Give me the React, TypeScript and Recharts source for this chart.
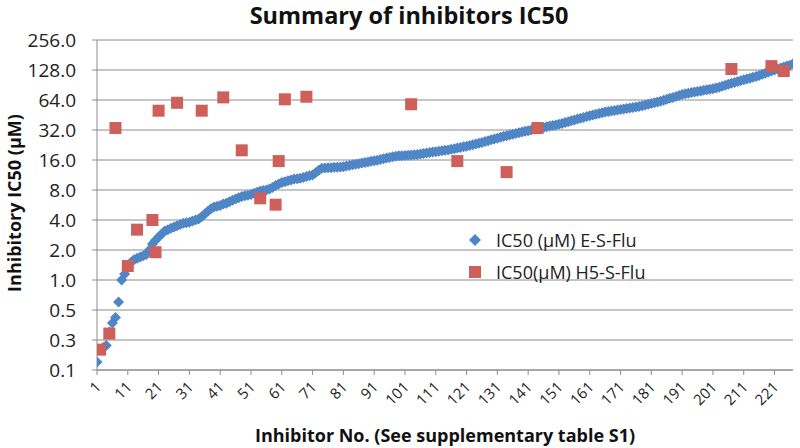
import { ScatterChart, Scatter, XAxis, YAxis, CartesianGrid } from "recharts";

const inhibitorTicks = [1, 11, 21, 31, 41, 51, 61, 71, 81, 91, 101, 111, 121, 131, 141, 151, 161, 171, 181, 191, 201, 211, 221];
const icTicks = [0.125, 0.25, 0.5, 1, 2, 4, 8, 16, 32, 64, 128, 256];

// IC50 (µM) E-S-Flu, sorted, inhibitor 1..227
const esFluIC50 = [
  0.15, 0.2, 0.21, 0.22, 0.3, 0.37, 0.42, 0.6, 1.0, 1.15,
  1.35, 1.5, 1.6, 1.65, 1.7, 1.75, 1.8, 2.0, 2.3, 2.5,
  2.7, 2.9, 3.1, 3.2, 3.3, 3.4, 3.5, 3.6, 3.7, 3.75,
  3.8, 3.9, 4.0, 4.1, 4.3, 4.6, 4.9, 5.2, 5.4, 5.5,
  5.6, 5.8, 5.9, 6.1, 6.3, 6.5, 6.7, 6.9, 7.0, 7.1,
  7.2, 7.4, 7.6, 7.8, 7.9, 8.0, 8.2, 8.5, 8.9, 9.2,
  9.5, 9.7, 9.9, 10.1, 10.3, 10.4, 10.5, 10.7, 10.9, 11.1,
  11.3, 11.9, 12.6, 13.2, 13.3, 13.4, 13.4, 13.5, 13.5, 13.6,
  13.7, 13.9, 14.1, 14.3, 14.5, 14.7, 14.9, 15.1, 15.3, 15.5,
  15.7, 15.9, 16.2, 16.5, 16.8, 17.0, 17.2, 17.4, 17.6, 17.7,
  17.8, 17.9, 18.0, 18.1, 18.2, 18.4, 18.6, 18.8, 19.0, 19.2,
  19.4, 19.6, 19.8, 20.0, 20.2, 20.5, 20.8, 21.1, 21.4, 21.7,
  22.0, 22.4, 22.8, 23.2, 23.6, 24.0, 24.5, 25.0, 25.5, 26.0,
  26.5, 27.0, 27.5, 28.0, 28.5, 29.0, 29.5, 30.0, 30.5, 31.0,
  31.5, 32.0, 32.5, 33.0, 33.5, 34.0, 34.5, 35.0, 35.5, 36.0,
  36.5, 37.2, 38.0, 38.8, 39.6, 40.4, 41.2, 42.0, 42.8, 43.6,
  44.4, 45.2, 46.0, 46.8, 47.6, 48.4, 49.0, 49.6, 50.2, 50.8,
  51.4, 52.0, 52.6, 53.2, 53.8, 54.5, 55.2, 56, 57, 58,
  59, 60, 61, 62, 63.5, 65, 66.5, 68, 69.5, 71,
  72.5, 74, 75, 76, 77, 78, 79, 80, 81, 82,
  83, 84.5, 86, 88, 90, 92, 94, 96, 98, 100,
  102, 104, 106, 108, 110, 113, 116, 119, 122, 125,
  128, 131, 134, 137, 140, 143, 148,
];

// IC50 (µM) H5-S-Flu, only the inhibitors that were measured
const h5Inhibitors = [2, 5, 7, 11, 14, 19, 20, 21, 27, 35, 42, 48, 54, 59, 60, 62, 69, 103, 118, 134, 144, 207, 220, 224];
const h5FluIC50 = [0.2, 0.29, 33.5, 1.38, 3.2, 4.0, 1.9, 50, 60, 50, 68, 20, 6.6, 5.7, 15.6, 65, 69, 58, 15.6, 12.1, 33.5, 131, 140, 125];

const BLUE = "#4F86C6";
const RED = "#CF5F5B";
const GRID = "#8C8C8C";
const FONT = "'Open Sans', sans-serif";

const esData = esFluIC50.map((v, i) => ({ no: i + 1, ic50: v }));
const h5Data = h5Inhibitors.map((n, i) => ({ no: n, ic50: h5FluIC50[i] }));

const Diamond = (p: any) => {
  const { cx, cy } = p;
  if (cx == null || cy == null) return <g />;
  const r = 5.5;
  return <path d={`M${cx},${cy - r}L${cx + r},${cy}L${cx},${cy + r}L${cx - r},${cy}Z`} fill={BLUE} />;
};

const Square = (p: any) => {
  const { cx, cy } = p;
  if (cx == null || cy == null) return <g />;
  return <rect x={cx - 6} y={cy - 6} width={12} height={12} fill={RED} />;
};

const XTick = ({ x, y, payload }: any) => {
  const ax = x + 5;
  const ay = y + 11;
  return (
    <text x={ax} y={ay} transform={`rotate(-45 ${ax} ${ay})`} textAnchor="end" fontSize={15} fontFamily={FONT} fill="#222">
      {payload.value}
    </text>
  );
};

const YTick = ({ y, payload }: any) => (
  <text x={76} y={y} textAnchor="end" dominantBaseline="central" fontSize={19} fontFamily={FONT} fill="#222">
    {Number(payload.value).toFixed(1)}
  </text>
);

export default function App() {
  return (
    <div style={{ position: "absolute", left: 0, top: 0, width: 800, height: 448, background: "#fff", fontFamily: FONT }}>
      <div style={{ position: "absolute", top: -1, left: 0, width: 818, textAlign: "center", fontSize: 23.5, fontWeight: 700, color: "#111" }}>
        Summary of inhibitors IC50
      </div>
      <div
        style={{
          position: "absolute",
          left: 14,
          top: 203,
          transform: "translate(-50%, -50%) rotate(-90deg)",
          whiteSpace: "nowrap",
          fontSize: 18,
          fontWeight: 700,
          color: "#111",
        }}
      >
        Inhibitory IC50 (μM)
      </div>
      <div style={{ position: "absolute", top: 423, left: 252, width: 386, textAlign: "center", whiteSpace: "nowrap", fontSize: 18, fontWeight: 700, color: "#111" }}>
        Inhibitor No. (See supplementary table S1)
      </div>
      <ScatterChart width={800} height={448} margin={{ top: 40, right: 7, left: 0, bottom: 0 }}>
        <CartesianGrid vertical={false} stroke={GRID} />
        <XAxis
          type="number"
          dataKey="no"
          domain={[1, 227]}
          ticks={inhibitorTicks}
          interval={0}
          height={78}
          tick={<XTick />}
          tickSize={5}
          axisLine={{ stroke: GRID }}
          tickLine={{ stroke: GRID }}
          allowDataOverflow
        />
        <YAxis
          type="number"
          dataKey="ic50"
          scale="log"
          domain={[0.125, 256]}
          ticks={icTicks}
          interval={0}
          width={97}
          tick={<YTick />}
          tickSize={5}
          axisLine={{ stroke: GRID }}
          tickLine={{ stroke: GRID }}
          allowDataOverflow
        />
        <Scatter name="IC50 (μM) E-S-Flu" data={esData} shape={Diamond} isAnimationActive={false} />
        <Scatter name="IC50(μM) H5-S-Flu" data={h5Data} shape={Square} isAnimationActive={false} />
      </ScatterChart>
      <div style={{ position: "absolute", left: 468, top: 224, fontSize: 18, color: "#222", lineHeight: "32px" }}>
        <div style={{ display: "flex", alignItems: "center" }}>
          <svg width={22} height={14}>
            <path d="M7,1L13,7L7,13L1,7Z" fill={BLUE} />
          </svg>
          <span style={{ marginLeft: 6 }}>IC50 (μM) E-S-Flu</span>
        </div>
        <div style={{ display: "flex", alignItems: "center" }}>
          <svg width={22} height={14}>
            <rect x={1} y={1} width={12} height={12} fill={RED} />
          </svg>
          <span style={{ marginLeft: 6 }}>IC50(μM) H5-S-Flu</span>
        </div>
      </div>
    </div>
  );
}
